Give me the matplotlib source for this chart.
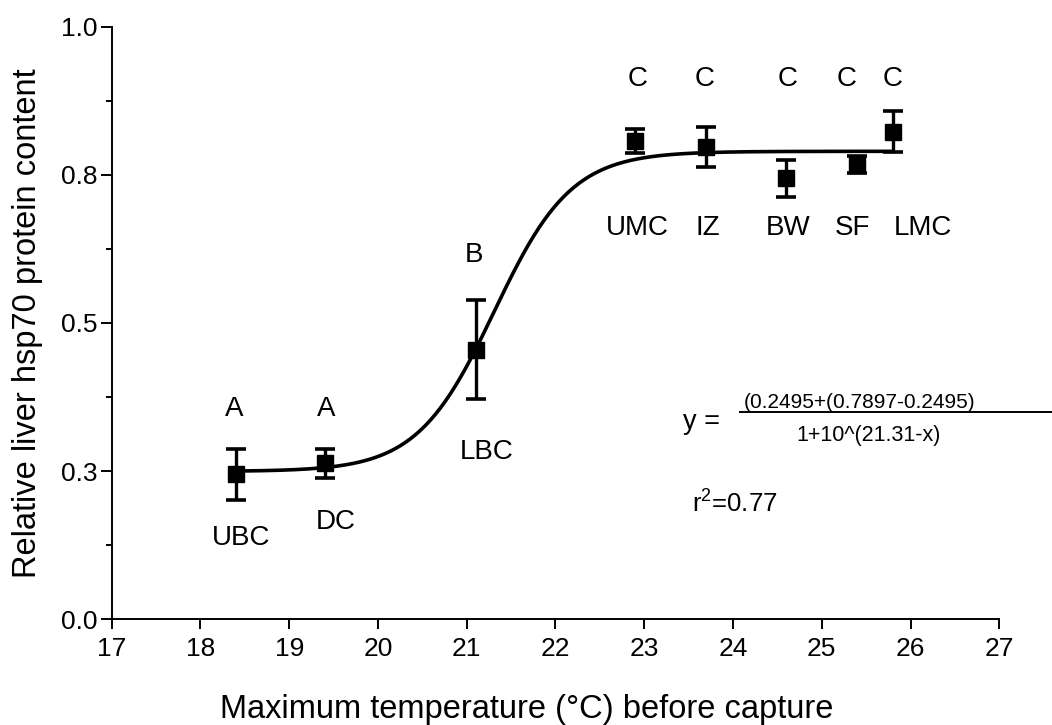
import numpy as np
import matplotlib
matplotlib.use("Agg")
import matplotlib.pyplot as plt
from matplotlib.lines import Line2D
from matplotlib.ticker import FixedLocator, FixedFormatter

plt.rcParams['font.family'] = ['Liberation Sans', 'DejaVu Sans']
plt.rcParams['mathtext.fontset'] = 'custom'
plt.rcParams['mathtext.rm'] = 'Liberation Sans'

# ---- data ----
sites = ["UBC", "DC", "LBC", "UMC", "IZ", "BW", "SF", "LMC"]
temps = [18.4, 19.4, 21.1, 22.9, 23.7, 24.6, 25.4, 25.8]
means = [0.245, 0.263, 0.455, 0.807, 0.797, 0.744, 0.767, 0.823]
errors = [0.043, 0.024, 0.084, 0.020, 0.034, 0.031, 0.014, 0.035]
groups = ["A", "A", "B", "C", "C", "C", "C", "C"]

# fitted sigmoid parameters (from the equation shown on the chart)
fit_bottom = 0.2495
fit_top = 0.7897
fit_logec50 = 21.31

# label positions (data coords)
group_x = [18.38, 19.42, 21.08, 22.92, 23.68, 24.62, 25.28, 25.80]
group_y = [0.355, 0.355, 0.614, 0.911, 0.911, 0.911, 0.911, 0.911]
site_x = [18.46, 19.52, 21.23, 22.92, 23.72, 24.62, 25.35, 26.14]
site_y = [0.138, 0.164, 0.282, 0.661, 0.661, 0.661, 0.661, 0.661]

yticks = [0.0, 0.25, 0.5, 0.75, 1.0]
ytick_labels = ["0.0", "0.3", "0.5", "0.8", "1.0"]
yminor = [0.125, 0.375, 0.625, 0.875]
xticks = list(range(17, 28))

W, H = 1052, 725
fig = plt.figure(figsize=(W / 100, H / 100), dpi=100)
ax = fig.add_axes([111.7 / W, 1 - 619.3 / H, (999.3 - 111.7) / W, (619.3 - 26.7) / H])

# curve
xs = np.linspace(temps[0], temps[-1], 400)
ys = fit_bottom + (fit_top - fit_bottom) / (1 + 10 ** (fit_logec50 - xs))
ax.plot(xs, ys, color='black', lw=2.6, solid_capstyle='round', zorder=2)

ax.errorbar(temps, means, yerr=errors, fmt='s', color='black', ms=11,
            elinewidth=2.4, capsize=7.5, capthick=2.6, zorder=3)

for x, y, t in zip(group_x, group_y, groups):
    ax.text(x, y, t, fontsize=20, ha='center', va='center')
for x, y, t in zip(site_x, site_y, sites):
    ax.text(x, y, t, fontsize=20, ha='center', va='center')

ax.set_xlim(17, 27)
ax.set_ylim(0, 1)
ax.xaxis.set_major_locator(FixedLocator(xticks))
ax.yaxis.set_major_locator(FixedLocator(yticks))
ax.yaxis.set_major_formatter(FixedFormatter(ytick_labels))
ax.yaxis.set_minor_locator(FixedLocator(yminor))

for s in ['top', 'right']:
    ax.spines[s].set_visible(False)
for s in ['left', 'bottom']:
    ax.spines[s].set_linewidth(1.4)
ax.tick_params(axis='both', which='major', labelsize=19, width=1.4, direction='out')
ax.tick_params(axis='y', which='major', length=8, pad=2)
ax.tick_params(axis='y', which='minor', length=4.5, width=1.4)
ax.tick_params(axis='x', which='major', length=7.5, pad=5)

def fx(px):
    return px / W

def fy(py):
    return 1 - py / H

fig.text(fx(526.5), fy(717.7), "Maximum temperature (°C) before capture",
         fontsize=23.5, ha='center', va='baseline')
fig.text(fx(28), fy(323), "Relative liver hsp70 protein content",
         fontsize=23.5, ha='center', va='center', rotation=90)

# equation
fig.text(fx(701.5), fy(422), "y =", fontsize=19.5, ha='center', va='center')
fig.text(fx(859.5), fy(403), "(0.2495+(0.7897-0.2495)", fontsize=15,
         ha='center', va='center')
fig.add_artist(Line2D([fx(740), fx(1052)], [fy(411.7), fy(411.7)],
                      transform=fig.transFigure, color='black', lw=1.4))
fig.text(fx(868.5), fy(435), "1+10^(21.31-x)", fontsize=15.5, ha='center', va='center')
fig.text(fx(691.7), fy(511.7), "r$^{2}$=0.77", fontsize=18.5, ha='left', va='baseline')

fig.savefig("out.png", dpi=100)
